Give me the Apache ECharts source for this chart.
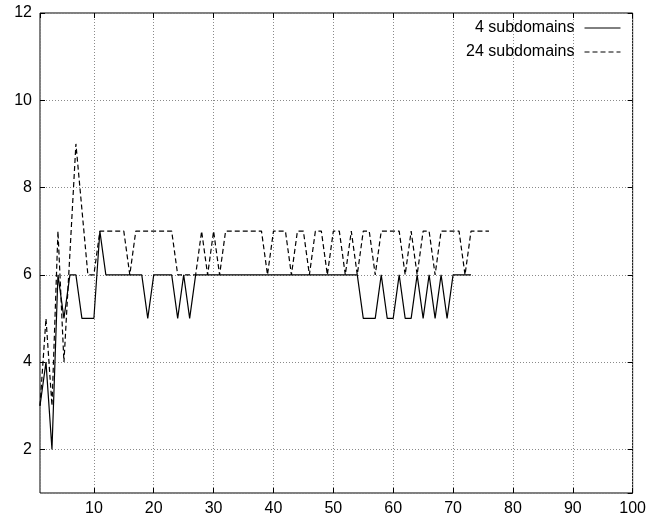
<!DOCTYPE html>
<html>
<head>
<meta charset="utf-8">
<script src="https://cdn.jsdelivr.net/npm/echarts@6/dist/echarts.min.js"></script>
<style>
  html, body { margin: 0; padding: 0; background: #fff; }
  #chart { width: 649px; height: 519px; }
</style>
</head>
<body>
<div id="chart"></div>
<script>
// Iteration counts per step for the two domain decompositions
const seriesNames = ['4 subdomains', '24 subdomains'];

// 4 subdomains, steps 1..73
const sub4 = [
  3, 4, 2, 6, 5, 6, 6, 5, 5, 5, 7,
  6, 6, 6, 6, 6, 6, 6, 5, 6, 6, 6, 6, 5, 6, 5,
  6, 6, 6, 6, 6, 6, 6, 6, 6, 6, 6, 6, 6, 6, 6, 6, 6, 6, 6, 6, 6, 6, 6, 6, 6, 6, 6, 6,
  5, 5, 5, 6, 5, 5, 6, 5, 5, 6, 5, 6, 5, 6, 5, 6, 6, 6, 6
];

// 24 subdomains, steps 1..76 (null = step not recorded)
const sub24 = [
  3, 5, 3, 7, 4, null, 9, null, 6, 6, 7,
  7, 7, 7, 7, 6, 7, 7, 7, 7, 7, 7, 7, 6, 6, 6, 6, 7, 6, 7, 6,
  7, 7, 7, 7, 7, 7, 7, 6, 7, 7, 7, 6, 7, 7, 6,
  7, 7, 6, 7, 7, 6, 7, 6, 7, 7, 6, 7, 7, 7, 7, 6, 7, 6,
  7, 7, 6, 7, 7, 7, 7, 6, 7, 7, 7, 7
];

const xRange = [1, 100];
const yRange = [1, 12];

const toPairs = arr => arr.map((v, i) => [i + 1, v]);

const font = 'Liberation Sans, Arial, Helvetica, sans-serif';
const gridLine = { show: true, lineStyle: { color: '#8a8a8a', width: 1, type: [1, 2] } };

const chart = echarts.init(document.getElementById('chart'), null, { renderer: 'canvas' });

const baseX = {
  type: 'value', min: xRange[0], max: xRange[1], splitNumber: 10,
  axisLine: { show: false },
  axisTick: { show: true, inside: true, length: 5, lineStyle: { color: '#000' } }
};
const baseY = {
  type: 'value', min: yRange[0], max: yRange[1], splitNumber: 5,
  axisLine: { show: false },
  axisTick: { show: true, inside: true, length: 5, lineStyle: { color: '#000' } }
};

chart.setOption({
  animation: false,
  backgroundColor: '#fff',
  grid: {
    left: 40, right: 15, top: 13, bottom: 26,
    show: true, borderColor: '#000', borderWidth: 1, backgroundColor: 'transparent'
  },
  legend: {
    data: seriesNames,
    orient: 'vertical',
    align: 'right',
    right: 23,
    top: 15,
    itemWidth: 36,
    itemHeight: 14,
    itemGap: 8,
    itemStyle: { opacity: 0 },
    lineStyle: { width: 1 },
    textStyle: { fontFamily: font, fontSize: 16, color: '#000', padding: [0, 5, 0, 0] }
  },
  xAxis: [
    Object.assign({}, baseX, {
      position: 'bottom',
      splitLine: gridLine,
      axisLabel: { show: true, showMinLabel: false, margin: 8, fontFamily: font, fontSize: 16, color: '#000' }
    }),
    Object.assign({}, baseX, {
      position: 'top',
      splitLine: { show: false },
      axisLabel: { show: false }
    })
  ],
  yAxis: [
    Object.assign({}, baseY, {
      position: 'left',
      splitLine: gridLine,
      axisLabel: { show: true, showMinLabel: false, margin: 8, fontFamily: font, fontSize: 16, color: '#000' }
    }),
    Object.assign({}, baseY, {
      position: 'right',
      splitLine: { show: false },
      axisLabel: { show: false }
    })
  ],
  series: [
    {
      name: seriesNames[0],
      type: 'line',
      data: toPairs(sub4),
      symbol: 'none',
      connectNulls: true,
      lineStyle: { color: '#000', width: 1.2, type: 'solid' },
      itemStyle: { color: '#000' },
      z: 3
    },
    {
      name: seriesNames[1],
      type: 'line',
      data: toPairs(sub24),
      symbol: 'none',
      connectNulls: true,
      lineStyle: { color: '#000', width: 1.2, type: [5, 3] },
      itemStyle: { color: '#000' },
      z: 4
    }
  ]
});
</script>
</body>
</html>
